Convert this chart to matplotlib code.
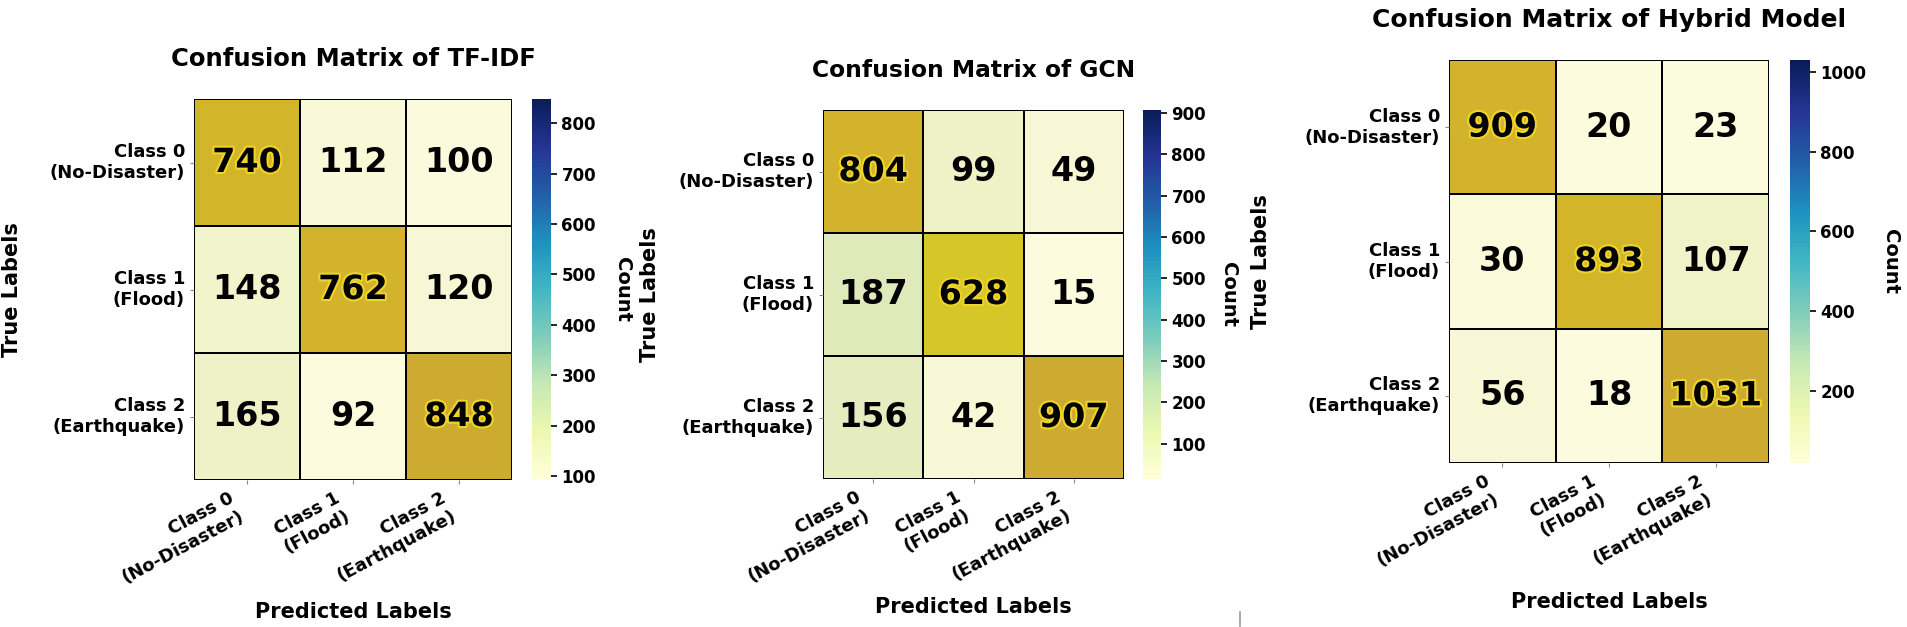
import matplotlib

matplotlib.use("Agg")
import matplotlib.patheffects as pe
import matplotlib.pyplot as plt
import numpy as np
import seaborn as sns
from matplotlib.cm import ScalarMappable
from matplotlib.colors import LinearSegmentedColormap, Normalize
from matplotlib.lines import Line2D

FIG_W, FIG_H = 1907, 627

CLASS_LABELS = ["Class 0\n(No-Disaster)", "Class 1\n(Flood)", "Class 2\n(Earthquake)"]
TITLES = [
    "Confusion Matrix of TF-IDF",
    "Confusion Matrix of GCN",
    "Confusion Matrix of Hybrid Model",
]
TFIDF_CM = [[740, 112, 100], [148, 762, 120], [165, 92, 848]]
GCN_CM = [[804, 99, 49], [187, 628, 15], [156, 42, 907]]
HYBRID_CM = [[909, 20, 23], [30, 893, 107], [56, 18, 1031]]

# boxes in pixels: (left, top, right, bottom)
PANELS = [
    {"heat": (194, 99, 512, 480), "cbar": (532, 99, 551, 480), "count_x": 622,
     "ylabel_x": -0.54, "title_size": 17.5},
    {"heat": (823, 110, 1124, 479), "cbar": (1143, 110, 1161, 479), "count_x": 1228,
     "ylabel_x": -0.54, "title_size": 16.8},
    {"heat": (1449, 60, 1769, 463), "cbar": (1790, 60, 1810, 463), "count_x": 1890,
     "ylabel_x": -0.556, "title_size": 18},
]

# cells are drawn in a yellow -> gold ramp, colorbar keeps YlGnBu
CELL_CMAP = LinearSegmentedColormap.from_list(
    "cells",
    [
        (0.00, "#FCFBDE"),
        (0.08, "#F1F3C9"),
        (0.20, "#DEE8B9"),
        (0.68, "#D6C727"),
        (0.86, "#D3B52A"),
        (1.00, "#CDAB30"),
    ],
)


def px_box(box):
    left, top, right, bottom = box
    return [left / FIG_W, 1 - bottom / FIG_H, (right - left) / FIG_W, (bottom - top) / FIG_H]


def draw_panel(fig, cm, title, layout):
    data = np.array(cm)
    vmin, vmax = data.min(), data.max()
    ax = fig.add_axes(px_box(layout["heat"]))
    cax = fig.add_axes(px_box(layout["cbar"]))

    sns.heatmap(
        data,
        ax=ax,
        cmap=CELL_CMAP,
        vmin=vmin,
        vmax=vmax,
        cbar=False,
        annot=True,
        fmt="d",
        linewidths=1.3,
        linecolor="black",
        annot_kws={"fontsize": 24, "fontweight": "bold", "color": "black"},
        xticklabels=CLASS_LABELS,
        yticklabels=CLASS_LABELS,
    )
    norm = (data - vmin) / (vmax - vmin)
    for text, level in zip(ax.texts, norm.ravel()):
        if level > 0.5:
            text.set_path_effects([pe.withStroke(linewidth=3, foreground="#EFD42A")])

    ax.set_title(title, fontsize=layout["title_size"], fontweight="bold", pad=24)
    ax.set_xlabel("Predicted Labels", fontsize=15, fontweight="bold")
    ax.set_ylabel("True Labels", fontsize=15, fontweight="bold")
    ax.xaxis.set_label_coords(0.5, -0.32)
    ax.yaxis.set_label_coords(layout["ylabel_x"], 0.5)
    plt.setp(ax.get_xticklabels(), rotation=28, ha="right", fontsize=13, fontweight="bold")
    plt.setp(ax.get_yticklabels(), rotation=0, ha="right", fontsize=13, fontweight="bold")
    ax.tick_params(axis="both", length=3, color="#888888")

    sm = ScalarMappable(norm=Normalize(vmin=vmin, vmax=vmax), cmap="YlGnBu")
    cbar = fig.colorbar(sm, cax=cax)
    cbar.outline.set_visible(False)
    cbar.ax.tick_params(labelsize=12, length=4, width=1.2)
    for lbl in cbar.ax.get_yticklabels():
        lbl.set_fontweight("bold")
    cbar.set_label("Count", rotation=270, fontsize=14, fontweight="bold", va="center")
    left, _, right, _ = layout["cbar"]
    cbar.ax.yaxis.set_label_coords((layout["count_x"] - left) / (right - left), 0.5)


def main():
    fig = plt.figure(figsize=(FIG_W / 100, FIG_H / 100), dpi=100)
    for cm, title, layout in zip([TFIDF_CM, GCN_CM, HYBRID_CM], TITLES, PANELS):
        draw_panel(fig, cm, title, layout)
    # small stray mark under the middle panel
    fig.add_artist(Line2D([1240 / FIG_W] * 2, [1 - 626 / FIG_H, 1 - 612 / FIG_H],
                          color="#9A9A9A", linewidth=1.2))
    fig.savefig("out.png", dpi=100)


if __name__ == "__main__":
    main()
